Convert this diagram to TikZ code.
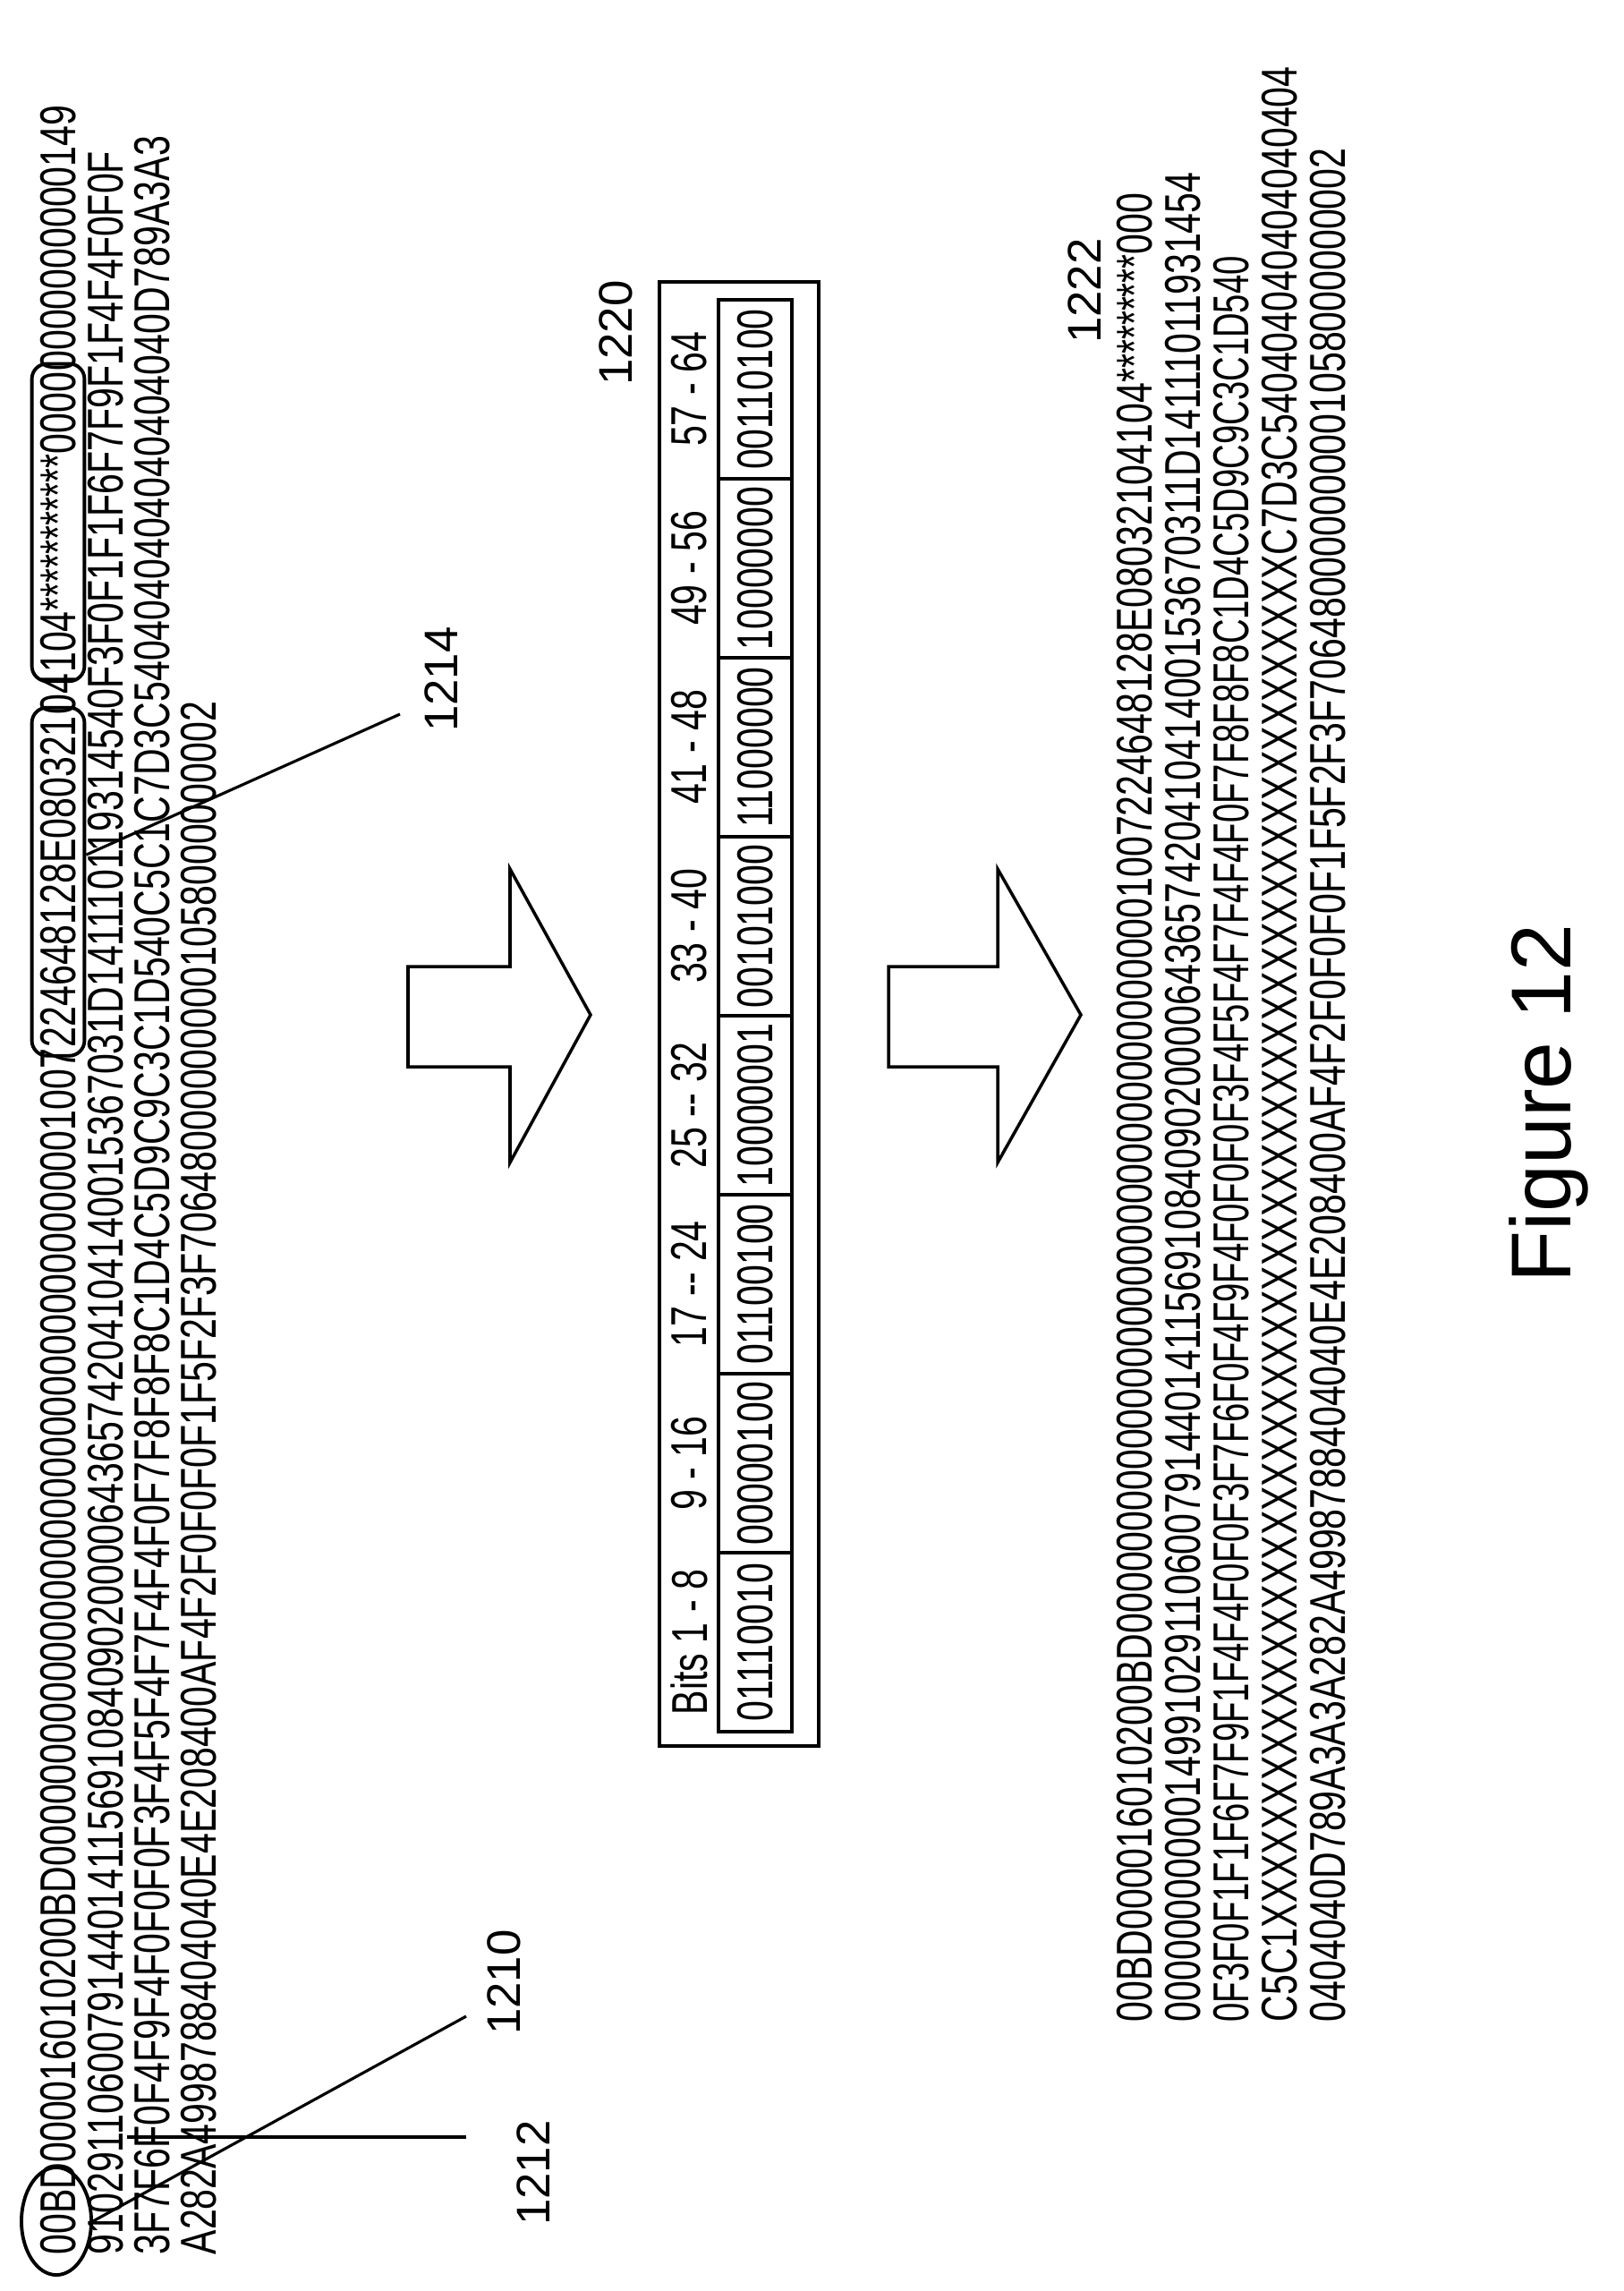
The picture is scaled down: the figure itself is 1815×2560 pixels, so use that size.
\documentclass[tikz,border=0pt]{standalone}
\usepackage{fontspec}
\usepackage{graphicx}
\setmainfont{Liberation Sans}
\usetikzlibrary{fit,shapes.geometric}
\newcommand\hx[1]{\scalebox{0.73}[1]{#1}}
\tikzset{
  hex/.style={rotate=90, anchor=west, inner sep=0pt, font=\fontsize{16}{18}\selectfont},
  lbl/.style={rotate=90, inner sep=1pt, font=\fontsize{15}{18}\selectfont},
  ln/.style={line width=0.9pt},
  hbox/.style={draw, line width=1.1pt, rounded corners=0.17cm, inner sep=2.5pt},
  cell/.style={draw, line width=1pt, rotate=90, minimum width=2cm, minimum height=0.82cm, inner sep=0pt, font=\fontsize{16}{18}\selectfont},
  hdr/.style={rotate=90, inner sep=0pt, font=\fontsize{16}{18}\selectfont},
  bigarrow/.style={draw, line width=1pt, fill=white}
}
\begin{document}
\begin{tikzpicture}[x=0.01cm, y=-0.01cm]
\useasboundingbox (0,0) rectangle (1815,2560);
% block 1
\node[hex] (s1) at (65,2520) {\hx{00BD000016010200BD0000000000000000000000000000000000001007}};
\node[hex] (s2) at (s1.east) {\hx{224648128E080321}};
\node[hex] (s3) at (s2.east) {\hx{04}};
\node[hex] (s4) at (s3.east) {\hx{104***********0000}};
\node[hex] (s5) at (s4.east) {\hx{0000000000149}};
\node[hex] (l2) at (118,2520) {\hx{9102911060079144014115691084090200006436574204104140015367031D141110119314540F3F0F1F1F6F7F9F1F4F4F0F0F}};
\node[hex] (l3) at (170,2520) {\hx{3F7F6F0F4F9F4F0F0F0F3F4F5F4F7F4F4F0F7F8F8F8C1D4C5D9C9C3C1D540C5C1C7D3C5404040404040404040D789A3A3}};
\node[hex] (l4) at (222,2520) {\hx{A282A4998788404040E4E208400AF4F2F0F0F0F1F5F2F3F706480000000001058000000002}};
\node[hbox, fit=(s2)] (boxA) {};
\node[hbox, fit=(s4)] (boxB) {};
\node[draw, ellipse, line width=1.1pt, minimum width=0.78cm, minimum height=1.2cm, inner sep=0pt] (ell) at (63,2482) {};
% labels and leaders
\node[lbl] (n1210) at (563,2215) {1210};
\node[lbl] (n1212) at (596,2428) {1212};
\node[lbl] (n1214) at (493,759) {1214};
\node[lbl] (n1220) at (688,372) {1220};
\node[lbl] (n1222) at (1212,325) {1222};
\coordinate (c1210) at (521,2253);
\coordinate (c1212a) at (142,2388);
\coordinate (c1212b) at (521,2388);
\coordinate (c1214) at (447,798);
\draw[ln] (ell.east) -- (c1210);
\draw[ln] (c1212a) -- (c1212b);
\draw[ln] ([yshift=0.3cm]boxA.east) -- (c1214);
% arrows
\draw[bigarrow] (456,1080) -- (570,1080) -- (570,971) -- (660,1134) -- (570,1299) -- (570,1192) -- (456,1192) -- cycle;
\draw[bigarrow] (993,1080) -- (1115,1080) -- (1115,971) -- (1208,1134) -- (1115,1299) -- (1115,1192) -- (993,1192) -- cycle;
% table
\draw[line width=1.2pt] (737,315) rectangle (915,1951);
\foreach \v [count=\i from 0] in {00110100,10000000,11000000,00101000,10000001,01100100,00000100,01110010}{
  \node[cell] (v\i) at (844,435+200*\i) {\hx{\v}};
}
\foreach \h [count=\i from 0] in {57 - 64,49 - 56,41 - 48,33 - 40,25 -{}- 32,17 -{}- 24,9 - 16,Bits 1 - 8}{
  \node[hdr] (h\i) at (770,435+200*\i) {\hx{\h}};
}
% block 2
\node[hex] (b1) at (1268,2260) {\hx{00BD000016010200BD0000000000000000000000000000000000001007224648128E08032104104*********000}};
\node[hex] (b2) at (1322,2260) {\hx{0000000000014991029110600791440141156910840902000064365742041041400153670311D14111011931454}};
\node[hex] (b3) at (1376,2260) {\scalebox{0.68}[1]{0F3F0F1F1F6F7F9F1F4F4F0F0F3F7F6F0F4F9F4F0F0F0F3F4F5F4F7F4F4F0F7F8F8F8C1D4C5D9C9C3C1D540}};
\node[hex] (b4) at (1430,2260) {\hx{C5C1XXXXXXXXXXXXXXXXXXXXXXXXXXXXXXXXXXXXXXXXXXXXXXXXXXXXXXXXC7D3C540404040404040404}};
\node[hex] (b5) at (1484,2260) {\hx{0404040D789A3A3A282A4998788404040E4E208400AF4F2F0F0F0F1F5F2F3F706480000000001058000000002}};
% figure label
\node[rotate=90, font=\fontsize{27}{30}\selectfont] (fig) at (1731,1233) {Figure 12};
\end{tikzpicture}
\end{document}
